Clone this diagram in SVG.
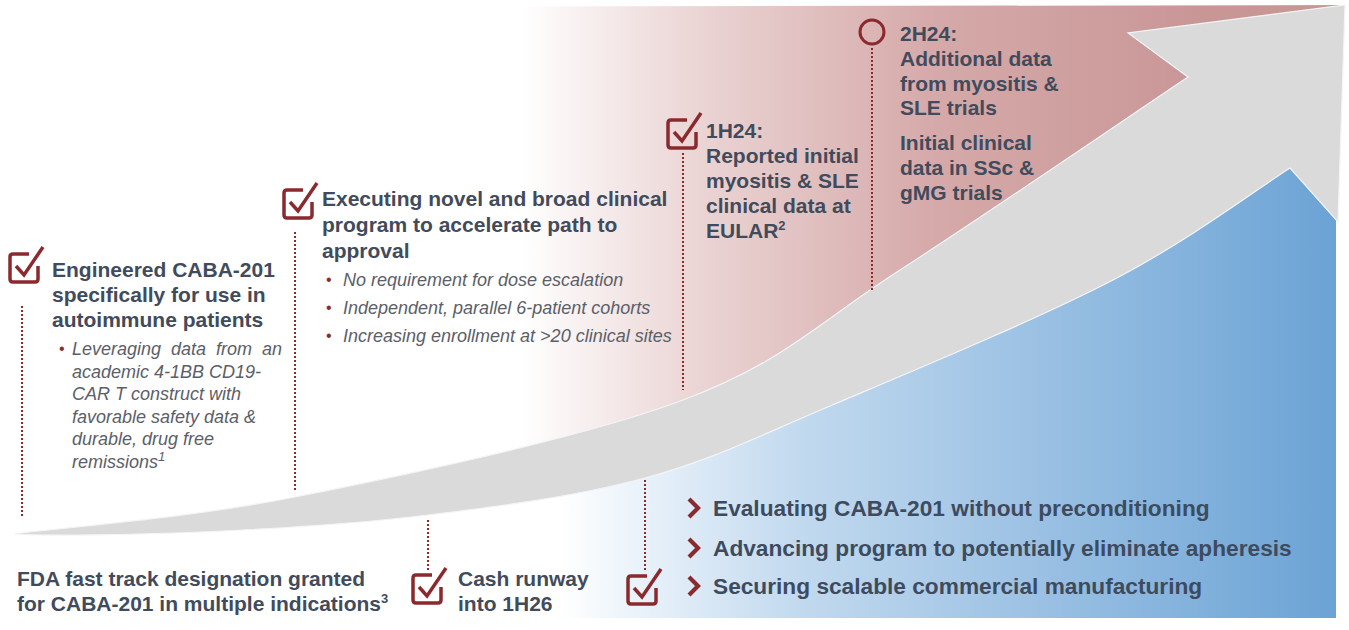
<svg xmlns="http://www.w3.org/2000/svg" width="1349" height="630" viewBox="0 0 1349 630">
  <defs>
    <style>
      .t { font-family: "Liberation Sans", Arial, sans-serif; font-weight: bold; font-size: 21px; fill: #414b5c; }
      .r { font-family: "Liberation Sans", Arial, sans-serif; font-weight: bold; font-size: 22.7px; fill: #3e4b5e; }
      .b { font-family: "Liberation Sans", Arial, sans-serif; font-style: italic; font-size: 18px; fill: #5b6068; }
      .bu { font-family: "Liberation Sans", Arial, sans-serif; font-size: 16px; fill: #8b2b2e; }
      .sup { font-size: 13px; }
      .dot { fill: none; stroke: #8b2b2e; stroke-width: 2; stroke-dasharray: 2 2; }
      .chk { fill: none; stroke: #8b2a2e; stroke-width: 3.5; }
      .chev { fill: none; stroke: #8b2a2e; stroke-width: 4.2; }
    </style>
    <linearGradient id="redFade" gradientUnits="userSpaceOnUse" x1="520" y1="0" x2="1200" y2="0">
      <stop offset="0" stop-color="#ffffff"/>
      <stop offset="0.25" stop-color="#ecd6d6"/>
      <stop offset="0.6" stop-color="#d6aaaa"/>
      <stop offset="1" stop-color="#c99696"/>
    </linearGradient>
    <linearGradient id="blueFade" gradientUnits="userSpaceOnUse" x1="560" y1="0" x2="1336" y2="0">
      <stop offset="0" stop-color="#ffffff"/>
      <stop offset="0.12" stop-color="#e6f0f9"/>
      <stop offset="0.3" stop-color="#c3daef"/>
      <stop offset="0.6" stop-color="#9dc2e4"/>
      <stop offset="1" stop-color="#6ba3d5"/>
    </linearGradient>
    <!-- check box with the tick breaking out of the top-right corner -->
    <g id="checkbox">
      <path class="chk" d="M19,0 H3 Q0,0 0,3 V25 Q0,28 3,28 H25 Q28,28 28,25 V12"/>
      <path class="chk" d="M6,12 L14,21 L33,-7"/>
    </g>
    <path id="chevron" class="chev" d="M0,0 L9,9 L0,18"/>
  </defs>

  <rect width="1349" height="630" fill="#ffffff"/>

  <!-- shaded bands above and below the growth arrow -->
  <g id="bands">
    <path fill="url(#redFade)" d="M295,7 L1345,5 L1128,33 L1188,77 C1140,109 984,216 900,270 C816,324 784,362 683,400 C582,438 406,475 295,497 Z"/>
    <path fill="url(#blueFade)" d="M1290,168 C1260,187 1190,240 1113,280 C1036,320 908,373 830,406 C752,439 712,460 645,478 C578,496 502,506 428,515 L428,618 L1336,618 L1336,220 Z"/>
  </g>

  <!-- growth arrow -->
  <g id="arrow">
    <path fill="#dadada" stroke="#f2f4f6" stroke-width="1.2" d="M14,534 C64,527 184,519 295,497 C406,475 582,438 683,400 C784,362 816,324 900,270 C984,216 1140,109 1188,77 L1128,33 L1345,5 L1338,222 L1290,168 C1260,187 1190,240 1113,280 C1036,320 908,373 830,406 C752,439 712,460 645,478 C578,496 502,506 428,515 C354,524 269,529 200,532 C131,535 45,536 14,534 Z"/>
  </g>

  <!-- dotted leader lines -->
  <g id="connectors">
    <line class="dot" x1="22" y1="306" x2="22" y2="518"/>
    <line class="dot" x1="295" y1="232" x2="295" y2="490"/>
    <line class="dot" x1="683" y1="153" x2="683" y2="390"/>
    <line class="dot" x1="872" y1="48" x2="872" y2="290"/>
    <line class="dot" x1="428" y1="520" x2="428" y2="571"/>
    <line class="dot" x1="645" y1="480" x2="645" y2="572"/>
  </g>

  <g id="engineered">
    <use href="#checkbox" x="10" y="254"/>
    <text class="t" x="52" y="277">Engineered CABA-201</text>
    <text class="t" x="52" y="302">specifically for use in</text>
    <text class="t" x="52" y="327">autoimmune patients</text>
    <text class="bu" x="59" y="354">•</text>
    <text class="b" x="72" y="355" word-spacing="5">Leveraging data from an</text>
    <text class="b" x="72" y="378">academic 4-1BB CD19-</text>
    <text class="b" x="72" y="400">CAR T construct with</text>
    <text class="b" x="72" y="423">favorable safety data &amp;</text>
    <text class="b" x="72" y="445">durable, drug free</text>
    <text class="b" x="72" y="468">remissions<tspan class="sup" dy="-7">1</tspan></text>
  </g>

  <g id="executing">
    <use href="#checkbox" x="284" y="190"/>
    <text class="t" x="322" y="206">Executing novel and broad clinical</text>
    <text class="t" x="322" y="232">program to accelerate path to</text>
    <text class="t" x="322" y="258">approval</text>
    <text class="bu" x="326" y="285">•</text>
    <text class="b" x="343" y="286">No requirement for dose escalation</text>
    <text class="bu" x="326" y="313">•</text>
    <text class="b" x="343" y="314">Independent, parallel 6-patient cohorts</text>
    <text class="bu" x="326" y="341">•</text>
    <text class="b" x="343" y="342">Increasing enrollment at &gt;20 clinical sites</text>
  </g>

  <g id="h1-24">
    <use href="#checkbox" x="668" y="120"/>
    <text class="t" x="706" y="138">1H24:</text>
    <text class="t" x="706" y="163">Reported initial</text>
    <text class="t" x="706" y="188">myositis &amp; SLE</text>
    <text class="t" x="706" y="213">clinical data at</text>
    <text class="t" x="706" y="238">EULAR<tspan class="sup" dy="-8">2</tspan></text>
  </g>

  <g id="h2-24">
    <circle cx="872" cy="32" r="12" fill="none" stroke="#8b2a2e" stroke-width="3"/>
    <text class="t" x="900" y="41">2H24:</text>
    <text class="t" x="900" y="66">Additional data</text>
    <text class="t" x="900" y="91">from myositis &amp;</text>
    <text class="t" x="900" y="115">SLE trials</text>
    <text class="t" x="900" y="150">Initial clinical</text>
    <text class="t" x="900" y="175">data in SSc &amp;</text>
    <text class="t" x="900" y="200">gMG trials</text>
  </g>

  <g id="fast-track">
    <text class="t" x="17" y="586">FDA fast track designation granted</text>
    <text class="t" x="17" y="611">for CABA-201 in multiple indications<tspan class="sup" dy="-8">3</tspan></text>
  </g>

  <g id="cash-runway">
    <use href="#checkbox" x="413" y="575"/>
    <text class="t" x="458" y="586">Cash runway</text>
    <text class="t" x="458" y="611">into 1H26</text>
  </g>

  <g id="manufacturing">
    <use href="#checkbox" x="628" y="576"/>
    <use href="#chevron" x="689" y="499"/>
    <text class="r" x="713" y="516">Evaluating CABA-201 without preconditioning</text>
    <use href="#chevron" x="689" y="539"/>
    <text class="r" x="713" y="556">Advancing program to potentially eliminate apheresis</text>
    <use href="#chevron" x="689" y="577"/>
    <text class="r" x="713" y="594">Securing scalable commercial manufacturing</text>
  </g>
</svg>
